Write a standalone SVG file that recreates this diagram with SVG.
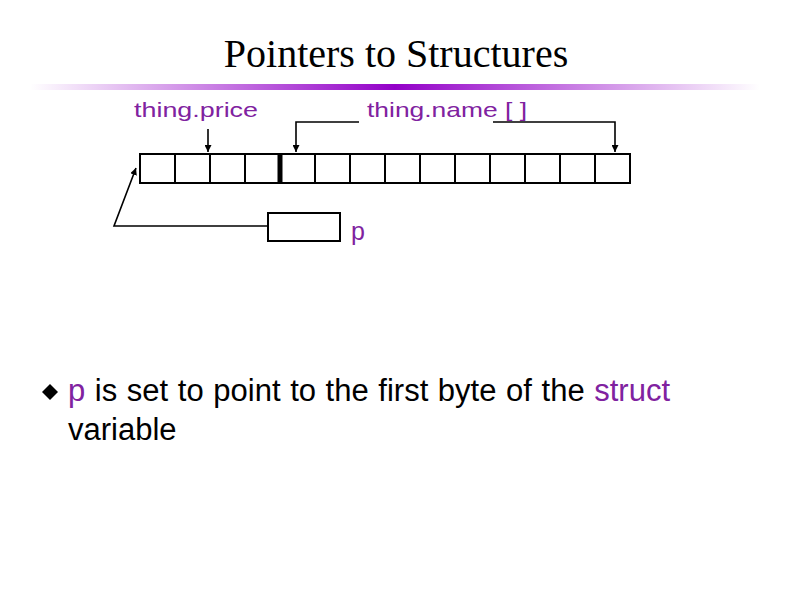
<svg xmlns="http://www.w3.org/2000/svg" width="792" height="612" viewBox="0 0 792 612">
  <style>
    .title { font-family: "Liberation Serif", "Times New Roman", serif; font-size: 40px; fill: #000; }
    .lbl { font-family: "Liberation Sans", Arial, sans-serif; font-size: 21px; fill: #8022A0; }
    .body { font-family: "Liberation Sans", Arial, sans-serif; font-size: 31px; fill: #000; word-spacing: 1px; }
    .purple { fill: #8022A0; }
    .cell { fill: #fff; stroke: #000; stroke-width: 2; }
    .div { stroke: #000; stroke-width: 2; }
    .conn { fill: none; stroke: #000; stroke-width: 1.6; }
  </style>
  <defs>
    <linearGradient id="bar" x1="0" y1="0" x2="1" y2="0">
      <stop offset="0" stop-color="#9300C8" stop-opacity="0"/>
      <stop offset="0.5" stop-color="#9300C8" stop-opacity="1"/>
      <stop offset="1" stop-color="#9300C8" stop-opacity="0"/>
    </linearGradient>
    <marker id="arr" viewBox="0 0 10 10" refX="10" refY="5" markerWidth="7" markerHeight="7" markerUnits="userSpaceOnUse" orient="auto">
      <path d="M0,0 L10,5 L0,10 z" fill="#000"/>
    </marker>
  </defs>
  <rect width="792" height="612" fill="#fff"/>

  <g id="title">
    <text class="title" x="396" y="67" text-anchor="middle">Pointers to Structures</text>
    <rect x="30" y="84" width="730" height="6" fill="url(#bar)"/>
  </g>

  <g id="label-price">
    <text class="lbl" x="134" y="117" textLength="124" lengthAdjust="spacingAndGlyphs">thing.price</text>
  </g>
  <g id="label-name">
    <text class="lbl" x="367" y="117" textLength="160" lengthAdjust="spacingAndGlyphs">thing.name [ ]</text>
  </g>

  <g id="array">
    <rect class="cell" x="140" y="154" width="490" height="29"/>
    <line class="div" x1="175" y1="154" x2="175" y2="183"/>
    <line class="div" x1="210" y1="154" x2="210" y2="183"/>
    <line class="div" x1="245" y1="154" x2="245" y2="183"/>
    <line class="div" x1="280" y1="154" x2="280" y2="183" style="stroke-width:5"/>
    <line class="div" x1="315" y1="154" x2="315" y2="183"/>
    <line class="div" x1="350" y1="154" x2="350" y2="183"/>
    <line class="div" x1="385" y1="154" x2="385" y2="183"/>
    <line class="div" x1="420" y1="154" x2="420" y2="183"/>
    <line class="div" x1="455" y1="154" x2="455" y2="183"/>
    <line class="div" x1="490" y1="154" x2="490" y2="183"/>
    <line class="div" x1="525" y1="154" x2="525" y2="183"/>
    <line class="div" x1="560" y1="154" x2="560" y2="183"/>
    <line class="div" x1="595" y1="154" x2="595" y2="183"/>
  </g>

  <g id="pointer-p">
    <rect class="cell" x="268" y="213" width="72" height="28"/>
    <text class="lbl" x="351" y="240" style="font-size:25px">p</text>
  </g>

  <g id="connectors">
    <polyline class="conn" points="208,129 208,152" marker-end="url(#arr)"/>
    <polyline class="conn" points="359,122 296,122 296,152" marker-end="url(#arr)"/>
    <polyline class="conn" points="493,122 615,122 615,152" marker-end="url(#arr)"/>
    <polyline class="conn" points="268,226 114,226 136,168" marker-end="url(#arr)"/>
  </g>

  <g id="bullet">
    <path d="M50,384 L58,392 L50,400 L42,392 z" fill="#000"/>
    <text class="body" x="68" y="401"><tspan class="purple">p</tspan> is set to point to the first byte of the <tspan class="purple">struct</tspan></text>
    <text class="body" x="68" y="440">variable</text>
  </g>
</svg>
